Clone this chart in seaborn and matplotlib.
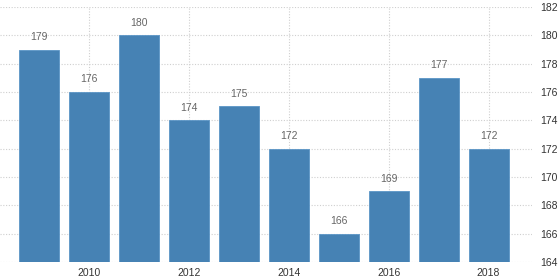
import matplotlib
matplotlib.use("Agg")
import matplotlib.pyplot as plt
import seaborn as sns
from matplotlib import font_manager

years = [2009, 2010, 2011, 2012, 2013, 2014, 2015, 2016, 2017, 2018]
values = [179, 176, 180, 174, 175, 172, 166, 169, 177, 172]
tick_years = [2010, 2012, 2014, 2016, 2018]
y_ticks = [164, 166, 168, 170, 172, 174, 176, 178, 180, 182]

sns.set_style("white")
names = {f.name for f in font_manager.fontManager.ttflist}
fam = "Liberation Sans Narrow" if "Liberation Sans Narrow" in names else "Liberation Sans"
plt.rcParams["font.family"] = [fam, "DejaVu Sans"]

fig = plt.figure(figsize=(5.59, 2.79), dpi=100)
ax = fig.add_axes([0.0, 17 / 279, 532 / 559, 255 / 279])

sns.barplot(x=[str(y) for y in years], y=values, color="#4682b4", saturation=1,
            width=0.8, ax=ax, edgecolor="#5b95c6", linewidth=0.6, zorder=3)

ax.set_ylim(164, 182)
ax.set_xlim(-0.79, 9.87)
ax.yaxis.tick_right()
ax.set_yticks(y_ticks)
ax.set_yticklabels([str(t) for t in y_ticks])
pos = [years.index(t) for t in tick_years]
ax.set_xticks(pos)
ax.set_xticklabels([str(t) for t in tick_years])
ax.tick_params(axis="y", length=0, pad=6, labelsize=7.5, colors="#333333")
ax.tick_params(axis="x", length=0, pad=4, labelsize=7.5, colors="#333333")
ax.set_xlabel("")
ax.set_ylabel("")
for s in ax.spines.values():
    s.set_visible(False)
ax.grid(True, axis="both", linestyle=(0, (1, 1.5)), color="#cfcfcf", linewidth=0.8, zorder=0)
ax.set_axisbelow(True)

for i, v in enumerate(values):
    ax.annotate(str(v), (i, v), xytext=(0, 5.5), textcoords="offset points",
                ha="center", va="bottom", fontsize=7.5, color="#666666")

fig.savefig("out.png", dpi=100)
